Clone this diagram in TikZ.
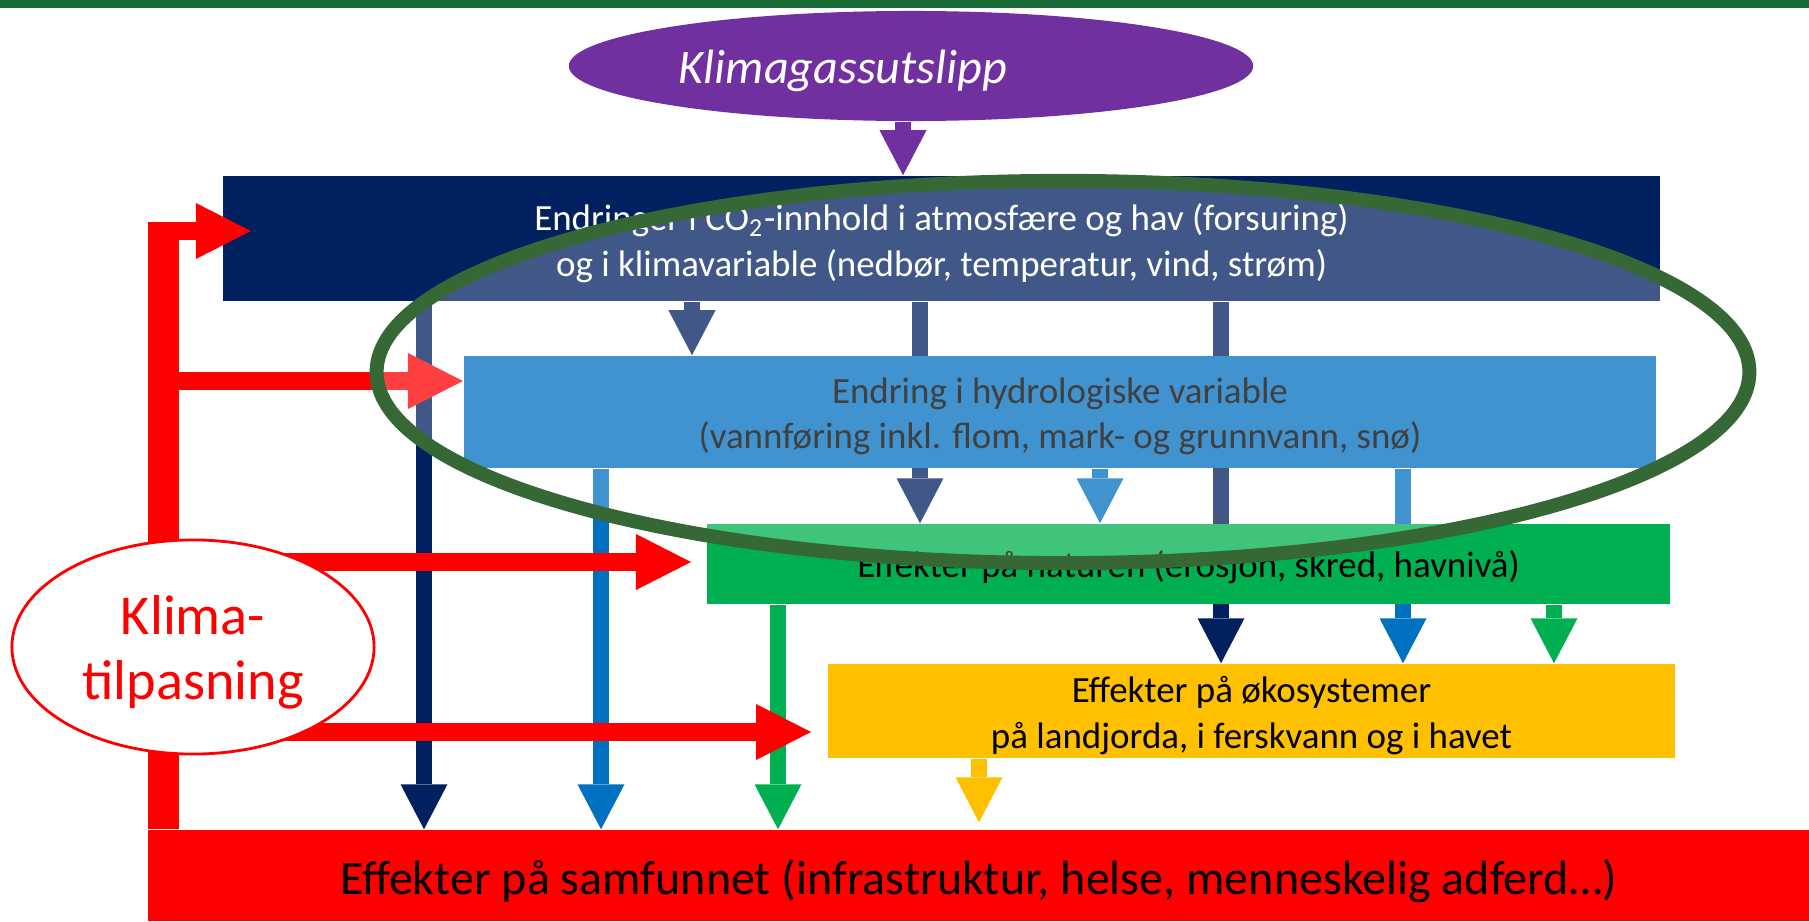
\documentclass[tikz,border=0pt]{standalone}
\usepackage{fontspec}
\setmainfont{Carlito}
\usetikzlibrary{arrows.meta,shapes.geometric,backgrounds}
\definecolor{navy}{RGB}{0,32,96}
\definecolor{hydro}{RGB}{0,112,192}
\definecolor{natur}{RGB}{0,176,80}
\definecolor{gul}{RGB}{255,192,0}
\definecolor{lilla}{RGB}{112,48,160}
\definecolor{ring}{RGB}{53,104,52}
\definecolor{topp}{RGB}{24,107,55}
\tikzset{
  boks/.style={rectangle, inner sep=0pt},
  tekst/.style={align=center, yshift=-0.045cm, font=\fontsize{10.5}{12.9}\selectfont},
  pil/.style={line width=0.16cm, -{Triangle[length=0.45cm,width=0.47cm,line width=0pt]}},
  rodpil/.style={red, line width=0.185cm, -{Triangle[length=0.55cm,width=0.56cm,line width=0pt]}}
}

\begin{document}
\begin{tikzpicture}[x=0.01cm,y=-0.01cm]
\useasboundingbox (0,0) rectangle (1809,921);
\fill[topp] (0,0) rectangle (1809,8);
\node[ellipse, fill=lilla, minimum width=6.84cm, minimum height=1.1cm, label={[text=white, xshift=-0.68cm, yshift=-0.05cm, font=\fontsize{13.7}{16}\selectfont\itshape]center:Klimagassutslipp}] (utslipp) at (911,66) {};
\node[boks, fill=navy, minimum width=14.37cm, minimum height=1.25cm, label={[tekst, text=white]center:{Endringer i CO\textsubscript{2}-innhold i atmosfære og hav (forsuring)\\og i klimavariable (nedbør, temperatur, vind, strøm)}}] (klima) at (941.5,238.5) {};
\node[boks, fill=hydro, minimum width=11.92cm, minimum height=1.12cm, label={[tekst]center:{Endring i hydrologiske variable\\(vannføring inkl. flom, mark- og grunnvann, snø)}}] (hydro) at (1060,412) {};
\node[boks, fill=natur, minimum width=9.63cm, minimum height=0.80cm, label={[tekst, yshift=0.015cm]center:{Effekter på naturen (erosjon, skred, havnivå)}}] (natur) at (1188.5,564) {};
\node[boks, fill=gul, minimum width=8.47cm, minimum height=0.94cm, label={[tekst]center:{Effekter på økosystemer\\på landjorda, i ferskvann og i havet}}] (oko) at (1251.5,711) {};
\node[boks, fill=red, minimum width=16.61cm, minimum height=0.91cm, label={[tekst, yshift=-0.015cm, font=\fontsize{13.67}{16}\selectfont]center:{Effekter på samfunnet (infrastruktur, helse, menneskelig adferd…)}}] (samf) at (978.5,875.5) {};
\begin{scope}[on background layer]
\draw[pil, lilla] (utslipp.south -| 903,0) -- (klima.north -| 903,0);
\draw[pil, navy] (klima.south -| 692,0) -- (hydro.north -| 692,0);
\draw[pil, navy] (klima.south -| 920,0) -- (natur.north -| 920,0);
\draw[pil, navy] (klima.south -| 1221,0) -- (oko.north -| 1221,0);
\draw[pil, navy] (klima.south -| 424,0) -- (samf.north -| 424,0);
\draw[pil, hydro] (hydro.south -| 1100,0) -- (natur.north -| 1100,0);
\draw[pil, hydro] (hydro.south -| 1403,0) -- (oko.north -| 1403,0);
\draw[pil, hydro] (hydro.south -| 601,0) -- (samf.north -| 601,0);
\draw[pil, natur] (natur.south -| 1554,0) -- (oko.north -| 1554,0);
\draw[pil, natur] (natur.south -| 778,0) -- (samf.north -| 778,0);
\draw[pil, gul, shorten >=0.07cm] (oko.south -| 979,0) -- (samf.north -| 979,0);
\end{scope}
\coordinate (hjorne) at (163.5,222);
\coordinate (tilp) at (193,647);
\draw[red, line width=0.31cm] (hjorne) -- (hjorne |- samf.north);
\draw[rodpil, shorten >=-0.29cm] (163.5,231) -- (klima.west |- 0,231);
\draw[rodpil] (163.5,381) -- (hydro.west |- 0,381);
\draw[rodpil, shorten >=0.15cm] (tilp |- 0,562) -- (natur.west |- 0,562);
\draw[rodpil, shorten >=0.16cm] (tilp |- 0,732) -- (oko.west |- 0,732);
\node[ellipse, draw=red, fill=white, line width=0.8pt, minimum width=3.62cm, minimum height=2.14cm, label={[text=red, align=center, yshift=-0.05cm, font=\fontsize{16}{18.5}\selectfont]center:{Klima-\\tilpasning}}] (tilpasning) at (tilp) {};
\draw[ring, line width=0.14cm, fill=white, fill opacity=0.25] (1063,372) ellipse [x radius=6.86cm, y radius=1.91cm];
\end{tikzpicture}
\end{document}
